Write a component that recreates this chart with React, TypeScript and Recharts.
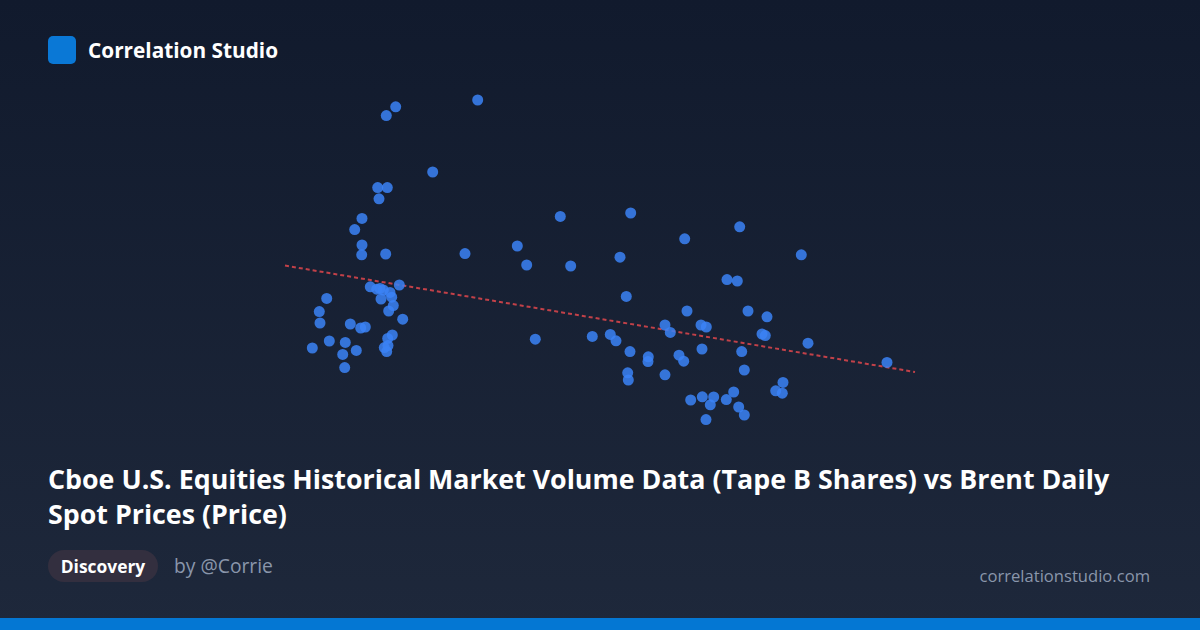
import React from "react";
import { ScatterChart, Scatter, XAxis, YAxis, ReferenceLine } from "recharts";

// Tape B share volume (millions) and Brent spot price (USD)
const volumes: number[] = [
  592.7, 510.7, 501.3, 547.7, 492.7, 502.3, 494.0, 477.0, 469.7, 477.0,
  476.7, 500.7, 580.0, 485.3, 491.7, 495.0, 498.3, 514.3, 505.0, 506.7,
  496.0, 508.3, 503.7, 517.7, 441.7, 434.3, 435.0, 465.3, 475.7, 480.3,
  444.3, 460.3, 427.3, 457.7, 471.3, 459.7, 507.3, 502.7, 503.0, 499.3,
  501.7, 675.3, 745.7, 632.3, 799.7, 641.7, 685.7, 735.0, 741.3, 802.0,
  780.0, 785.3, 650.3, 707.3, 725.3, 731.0, 745.0, 763.3, 763.0, 794.0,
  798.7, 742.7, 743.3, 780.0, 805.7, 854.7, 916.3, 842.0, 852.3, 863.0,
  882.0, 816.0, 821.3, 877.0, 880.3, 923.0, 817.0, 856.7, 1002.0, 859.3,
  898.0, 890.7, 897.3, 817.3, 828.7, 825.3, 848.7, 841.3, 853.7, 859.3,
  821.0,
];
const prices: number[] = [
  120.0, 118.3, 116.1, 102.0, 98.1, 98.1, 95.3, 90.4, 87.6, 83.75,
  81.3, 81.5, 81.6, 73.3, 72.7, 72.9, 72.5, 73.75, 71.9, 70.7,
  70.25, 68.6, 67.25, 65.2, 70.4, 67.1, 64.25, 64.0, 63.0, 63.25,
  59.75, 59.4, 58.0, 56.4, 57.4, 53.1, 61.25, 60.4, 58.6, 58.1,
  57.1, 90.9, 91.75, 83.5, 85.3, 78.75, 78.5, 80.7, 70.9, 67.25,
  63.75, 61.9, 60.2, 60.9, 61.4, 59.8, 57.1, 55.8, 54.6, 56.2,
  54.7, 51.8, 50.0, 51.3, 45.0, 88.3, 81.3, 75.1, 74.75, 67.25,
  65.8, 63.75, 63.25, 61.5, 61.1, 59.2, 57.75, 57.1, 54.4, 52.5,
  49.4, 47.3, 46.7, 45.8, 45.75, 43.8, 47.0, 45.1, 43.25, 41.25,
  40.1,
];
const trendX: number[] = [400, 1030];
const trendY: number[] = [78.6, 52.0];

const points = volumes.map((v, i) => ({ x: v, y: prices[i] }));

const FONT = "'Open Sans', 'Noto Sans', sans-serif";

export default function App() {
  return (
    <div
      style={{
        position: "fixed",
        left: 0,
        top: 0,
        width: 1200,
        height: 630,
        overflow: "hidden",
        background: "linear-gradient(180deg, #111a2d 0%, #1e283b 100%)",
        fontFamily: FONT,
      }}
    >
      <div style={{ position: "absolute", left: 0, top: 0 }}>
        <ScatterChart
          width={1200}
          height={630}
          margin={{ left: 285, right: 285, top: 100, bottom: 210 }}
        >
          <XAxis type="number" dataKey="x" domain={[400, 1030]} hide />
          <YAxis type="number" dataKey="y" domain={[40, 120]} hide />
          <ReferenceLine
            segment={[
              { x: trendX[0], y: trendY[0] },
              { x: trendX[1], y: trendY[1] },
            ]}
            stroke="#e0464c"
            strokeOpacity={0.85}
            strokeWidth={2}
            strokeDasharray="4 3"
            ifOverflow="visible"
          />
          <Scatter
            data={points}
            isAnimationActive={false}
            shape={(p: any) => (
              <circle cx={p.cx} cy={p.cy} r={5.5} fill="#3b82f6" fillOpacity={0.85} />
            )}
          />
        </ScatterChart>
      </div>

      <div
        style={{
          position: "absolute",
          left: 48,
          top: 36,
          width: 28,
          height: 28,
          borderRadius: 5,
          background: "#0a78d6",
        }}
      />
      <div
        style={{
          position: "absolute",
          left: 88,
          top: 36,
          height: 28,
          lineHeight: "28px",
          color: "#ffffff",
          fontWeight: 700,
          fontSize: 20.8,
        }}
      >
        Correlation Studio
      </div>

      <div
        style={{
          position: "absolute",
          left: 48,
          top: 461,
          width: 1090,
          color: "#ffffff",
          fontWeight: 700,
          fontSize: 26.8,
          lineHeight: "35px",
        }}
      >
        Cboe U.S. Equities Historical Market Volume Data (Tape B Shares) vs Brent Daily Spot Prices (Price)
      </div>

      <div
        style={{
          position: "absolute",
          left: 48,
          top: 550,
          height: 32,
          width: 110,
          borderRadius: 16,
          background: "#332f3f",
          color: "#ffffff",
          fontWeight: 700,
          fontSize: 17.4,
          lineHeight: "32px",
          textAlign: "center",
        }}
      >
        Discovery
      </div>
      <div
        style={{
          position: "absolute",
          left: 174,
          top: 552,
          lineHeight: "28px",
          color: "#8a96ab",
          fontSize: 19.3,
        }}
      >
        by @Corrie
      </div>
      <div
        style={{
          position: "absolute",
          right: 50,
          top: 562,
          lineHeight: "28px",
          color: "#8a96ab",
          fontSize: 16.6,
        }}
      >
        correlationstudio.com
      </div>

      <div
        style={{
          position: "absolute",
          left: 0,
          top: 618,
          width: 1200,
          height: 12,
          background: "#0477d3",
        }}
      />
    </div>
  );
}
